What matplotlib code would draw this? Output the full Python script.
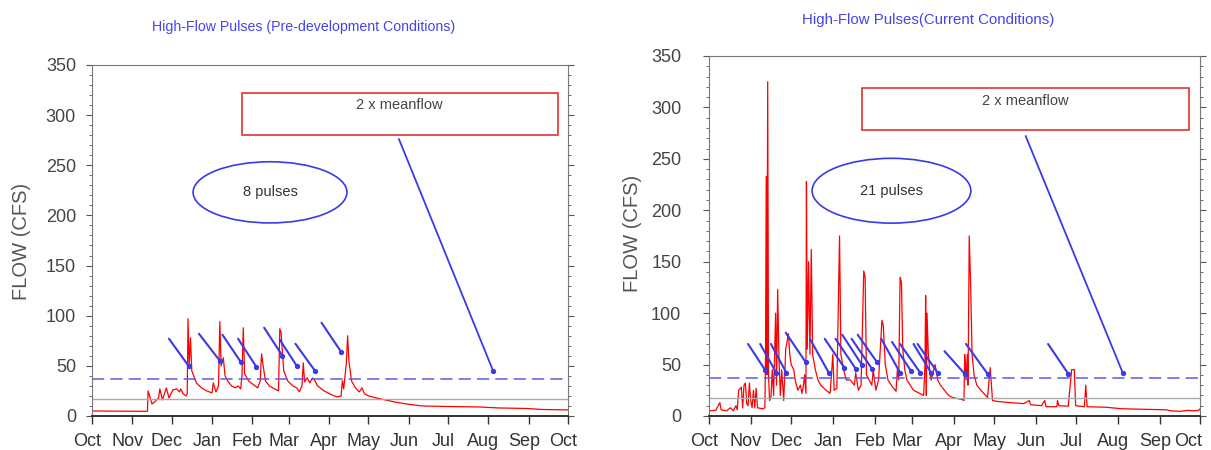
import numpy as np
import matplotlib.pyplot as plt
from matplotlib.patches import Ellipse, Rectangle
from matplotlib.transforms import ScaledTranslation, blended_transform_factory

plt.rcParams['font.family'] = ['Liberation Sans', 'DejaVu Sans']

# month labels along the water year (day 0 = Oct 1)
months = ['Oct', 'Nov', 'Dec', 'Jan', 'Feb', 'Mar', 'Apr', 'May', 'Jun', 'Jul', 'Aug', 'Sep', 'Oct']
month_days = [0, 31, 61, 92, 123, 151, 182, 212, 243, 273, 304, 335, 365]

mean_flow = 17
two_x_mean = 37

# hydrograph: (day, flow)
pre_flow = [
    (0, 5), (20, 4.8), (42.5, 4.7), (43, 25), (46, 12), (48, 14), (51, 18), (52, 27), (54, 16), (57, 28),
    (59, 18), (62, 26), (65, 27), (67, 24), (68, 27), (70, 22), (72, 20), (73, 22), (73.6, 97), (74.5, 50),
    (75.5, 78), (76.5, 45), (78, 40), (80, 33), (84, 28), (88, 25), (92, 23), (93, 33), (95, 24), (97, 30),
    (98, 94), (99, 50), (100.7, 58), (102, 40), (104, 35), (107, 30), (110, 28), (112, 30), (114, 27), (115, 40),
    (116, 88), (117, 42), (120, 35), (124, 31), (127, 28), (129, 35), (130, 62), (131, 52), (133, 35), (136, 30),
    (140, 27), (143, 25), (144, 87), (145, 83), (147, 45), (150, 35), (154, 30), (157, 28), (159, 24), (161, 30),
    (162, 53), (163, 34), (165, 38), (167, 33), (169, 38), (171, 35), (173, 30), (178, 25), (184, 21), (188, 19),
    (191, 20), (192, 35), (193, 27), (195, 52), (196, 80), (197, 55), (199, 35), (202, 28), (205, 24), (207, 28),
    (209, 22), (212, 20), (218, 18), (225, 16), (232, 14), (241, 12), (253, 10), (271, 9.5), (297, 9), (312, 8),
    (333, 7.5), (345, 6.5), (365, 6),
]

cur_flow = [
    (0, 5), (5, 5.5), (8, 13), (9, 6), (13, 5), (16, 8), (18, 5), (20, 10), (21, 6), (22, 25),
    (24, 28), (25, 8), (26, 30), (27, 32), (28, 12), (29, 10), (30, 32), (31, 15), (32, 8), (33, 25),
    (34, 8), (35, 27), (36, 8), (40, 7), (41.5, 8), (42, 60), (42.5, 233), (43, 40), (43.6, 325), (44.2, 40),
    (45, 15), (46, 18), (47, 45), (48, 20), (49.5, 100), (50.2, 30), (51, 123), (52, 55), (53, 20), (54, 45),
    (55.5, 15), (57, 65), (59, 80), (60, 60), (61, 50), (63, 45), (64, 35), (66, 25), (68, 30), (69, 22),
    (70, 28), (71, 40), (72, 22), (72.4, 228), (73, 65), (74, 150), (75, 60), (76, 162), (77, 60), (79, 45),
    (81, 35), (83, 30), (87, 25), (90, 22), (91, 40), (92, 60), (93, 25), (95, 27), (97, 175), (98, 60),
    (100, 45), (102, 35), (105, 35), (108, 30), (109, 42), (111, 25), (113, 30), (115, 141), (116, 135), (117, 40),
    (119, 35), (121, 30), (122, 45), (124, 25), (126, 35), (128.5, 93), (129.5, 88), (131, 50), (133, 35), (136.5, 28),
    (139, 24), (140, 45), (141, 35), (142, 135), (143, 130), (144, 65), (145.5, 45), (147, 35), (152, 25), (159.5, 20),
    (160.5, 50), (161, 117), (161.5, 20), (162, 100), (163, 60), (164, 45), (165, 35), (166, 40), (168, 50), (169, 42),
    (170, 35), (172, 30), (175, 25), (178, 20), (181, 18), (188, 16), (189.5, 15), (190, 60), (190.5, 50), (191, 35),
    (192, 60), (192.5, 30), (193.4, 175), (194.5, 125), (195.5, 60), (197, 40), (199, 30), (202, 25), (205.5, 20), (207, 18),
    (208.5, 40), (209, 47), (210.7, 15), (215, 14), (224, 13), (234, 12), (238, 15), (239, 11), (247, 10), (249.5, 15),
    (250.5, 9), (258.5, 9), (259, 15), (260, 10), (267, 9.5), (269.5, 45), (271.5, 45), (272.5, 10), (279, 9), (280, 30),
    (281, 9), (295, 8.5), (307, 7), (325, 6.5), (340, 6), (343, 5), (350, 4.5), (356, 5.5), (360, 5), (364, 5.5),
    (365, 7),
]

# small pointer lines: (x0, y0, x1, y1), dot at the end
pre_arrows = [
    (59, 77, 74, 50), (82, 82, 98, 55), (100, 81, 114, 54), (112, 77, 126, 49),
    (132, 88, 146, 60), (144, 76, 157, 50), (156, 72, 171, 45), (176, 93, 191, 64),
]
cur_arrows = [
    (29, 70, 41.5, 45), (38, 70, 50, 42), (46, 70, 57.5, 42), (57, 81, 72, 52),
    (75, 75, 89, 42), (86, 75, 100.5, 47), (94, 75, 109, 46), (99, 79, 113.5, 50),
    (106, 75, 121, 46), (110.5, 79, 125, 52), (128, 75, 142, 42), (136, 72, 150, 44),
    (142, 70, 157, 42), (152, 70, 165, 42), (155, 70, 170, 42), (175, 63, 190, 41),
    (191, 70, 207, 41), (252, 70, 267, 41),
]

panels = [
    dict(data=pre_flow, arrows=pre_arrows, rect=[0.076, 0.0756, 0.393, 0.78],
         title='High-Flow Pulses (Pre-development Conditions)', title_xy=(0.2506, 0.94), title_fs=10.2,
         box=(115, 280, 242, 42), box_text_y=310, lead=(235.4, 276, 307.6, 45),
         ell=(136.5, 223, 118, 61), ell_text='8 pulses', ypad=7.5, ylab_xy=(0.0178, 0.464), last_dx=-5),
    dict(data=cur_flow, arrows=cur_arrows, rect=[0.5855, 0.0756, 0.4055, 0.8],
         title='High-Flow Pulses(Current Conditions)', title_xy=(0.7663, 0.9556), title_fs=10.8,
         box=(113.5, 278, 243.5, 41), box_text_y=306.5, lead=(235.4, 272, 307.5, 42),
         ell=(135.6, 219, 118, 63), ell_text='21 pulses', ypad=16, ylab_xy=(0.5227, 0.481), last_dx=-12),
]

fig = plt.figure(figsize=(12.11, 4.5), dpi=100)
blue = '#3a3ae6'

for p in panels:
    ax = fig.add_axes(p['rect'])
    d = np.array(p['data'])
    ax.plot(d[:, 0], d[:, 1], color='red', lw=0.9)
    ax.axhline(mean_flow, color='#aaaaaa', lw=1)
    ax.axhline(two_x_mean, color='#5a5aee', lw=1.1, ls=(0, (8, 4)))

    for x0, y0, x1, y1 in p['arrows']:
        ax.plot([x0, x1], [y0, y1], color=blue, lw=1.5, solid_capstyle='round')
        ax.plot(x1, y1, 'o', color=blue, ms=2.8)
    x0, y0, x1, y1 = p['lead']
    ax.plot([x0, x1], [y0, y1], color=blue, lw=1.3)
    ax.plot(x1, y1, 'o', color=blue, ms=2.8)

    bx, by, bw, bh = p['box']
    ax.add_patch(Rectangle((bx, by), bw, bh, fill=False, edgecolor='#e02020', lw=1.1))
    ax.text(bx + bw / 2, p['box_text_y'], '2 x meanflow', ha='center', va='center',
            fontsize=10.5, color='#444444')

    ex, ey, ew, eh = p['ell']
    ax.add_patch(Ellipse((ex, ey), ew, eh, fill=False, edgecolor=blue, lw=1.2))
    ax.text(ex, ey, p['ell_text'], ha='center', va='center', fontsize=10.5, color='#333333')

    ax.set_xlim(0, 365)
    ax.set_ylim(0, 350)
    ax.set_xticks(month_days)
    ax.set_xticklabels([])
    # month labels sit a little left of their ticks, as in the original
    trans = blended_transform_factory(ax.transData, ax.transAxes)
    for i, (day, m) in enumerate(zip(month_days, months)):
        dx = p['last_dx'] if i == len(months) - 1 else -5
        off = ScaledTranslation(dx / 100, -17 / 100, fig.dpi_scale_trans)
        ax.text(day, 0, m, transform=trans + off, ha='center', va='top',
                fontsize=13, color='#333333')
    ax.set_yticks(np.arange(0, 351, 50))
    ax.set_yticks(np.arange(0, 351, 10), minor=True)
    ax.tick_params(axis='y', which='both', left=True, right=True, direction='out',
                   labelsize=13, labelcolor='#444444', color='#555555', pad=p['ypad'])
    ax.tick_params(axis='y', which='major', length=4)
    ax.tick_params(axis='y', which='minor', length=2.5)
    ax.tick_params(axis='x', length=6, width=1, color='#333333')
    for s in ['top', 'left', 'right']:
        ax.spines[s].set_color('#777777')
    ax.spines['bottom'].set_color('#333333')
    ax.spines['bottom'].set_linewidth(1.4)

    fig.text(p['ylab_xy'][0], p['ylab_xy'][1], 'FLOW (CFS)', rotation=90, ha='center', va='center',
             fontsize=14.5, color='#555555')
    fig.text(p['title_xy'][0], p['title_xy'][1], p['title'], ha='center', va='center',
             fontsize=p['title_fs'], color='#4444ee')

fig.savefig('out.png', dpi=100)
